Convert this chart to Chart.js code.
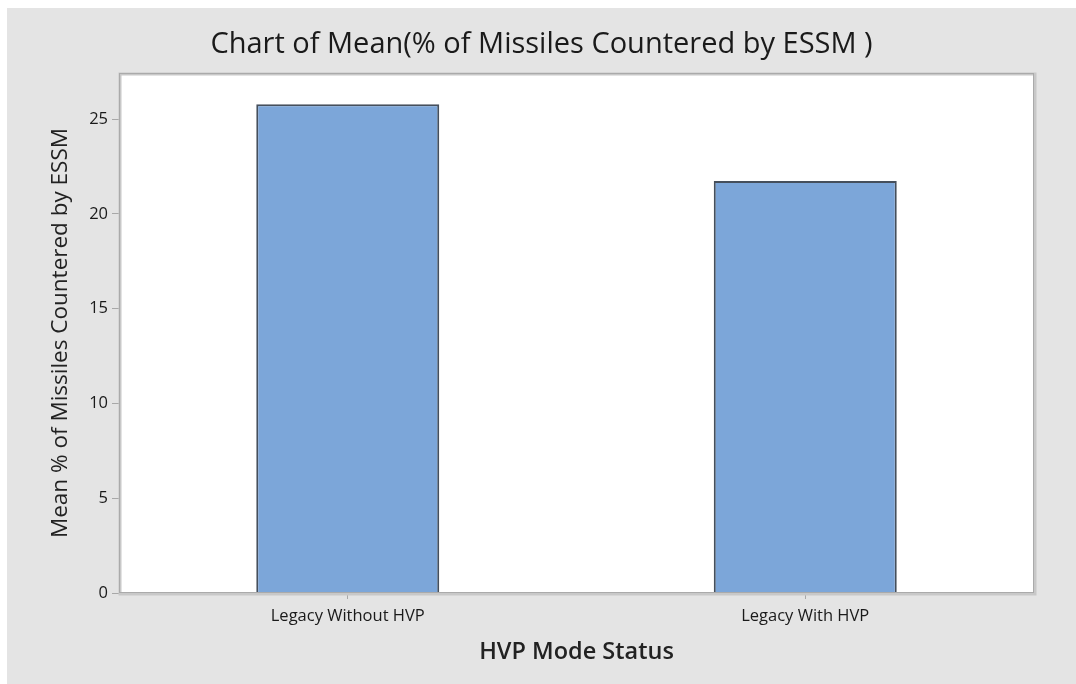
<!DOCTYPE html>
<html>
<head>
<meta charset="utf-8">
<script src="https://cdn.jsdelivr.net/npm/chart.js@4"></script>
<style>
    html, body { margin: 0; padding: 0; background: #ffffff; }
    #wrap { width: 1076px; height: 684px; }
</style>
</head>
<body>
<div id="wrap"><canvas id="meanChart" width="1076" height="684"></canvas></div>
<script>
// Chart data
const categories = ['Legacy Without HVP', 'Legacy With HVP'];
const meanValues = [25.78, 21.73];
const yTicks = [0, 5, 10, 15, 20, 25];
const chartTitle = 'Chart of Mean(% of Missiles Countered by ESSM )';

const FONT = '"Open Sans", "Noto Sans", sans-serif';

// Grey page panel, title, white plot area with a grey frame
const panelPlugin = {
    id: 'panel',
    beforeDraw(chart) {
        const { ctx, chartArea: a } = chart;
        ctx.save();
        ctx.fillStyle = '#e4e4e4';
        ctx.fillRect(7, 8, chart.width - 7, chart.height - 8);
        ctx.fillStyle = '#ffffff';
        ctx.fillRect(a.left, a.top, a.right - a.left, a.bottom - a.top);
        // title centred over the grey panel
        ctx.fillStyle = '#1a1a1a';
        ctx.font = '29px ' + FONT;
        ctx.textAlign = 'center';
        ctx.textBaseline = 'middle';
        ctx.fillText(chartTitle, (7 + chart.width) / 2, 45);
        ctx.restore();
    },
    afterDatasetsDraw(chart) {
        const { ctx, chartArea: a } = chart;
        ctx.save();
        ctx.strokeStyle = '#c8c8c8';
        ctx.lineWidth = 3;
        ctx.strokeRect(a.left + 1, a.top + 1, a.right - a.left, a.bottom - a.top);
        ctx.strokeStyle = '#aaaaaa';
        ctx.lineWidth = 1;
        ctx.strokeRect(a.left + 0.5, a.top + 0.5, a.right - a.left - 1, a.bottom - a.top - 1);
        ctx.restore();
    }
};

new Chart(document.getElementById('meanChart'), {
    type: 'bar',
    data: {
        labels: categories,
        datasets: [{
            label: 'Mean % of Missiles Countered by ESSM',
            data: meanValues,
            backgroundColor: '#7ca6d9',
            borderColor: '#454f5c',
            borderWidth: 2,
            barPercentage: 0.4,
            categoryPercentage: 1.0
        }]
    },
    options: {
        responsive: false,
        animation: false,
        layout: { padding: { left: 0, right: 42, top: 73, bottom: 0 } },
        plugins: {
            legend: { display: false },
            tooltip: { enabled: false },
            title: { display: false }
        },
        scales: {
            x: {
                offset: true,
                afterFit: (scale) => { scale.height = 91; },
                border: { display: false },
                grid: { drawOnChartArea: false, offset: false, tickLength: 6, color: '#a8a8a8' },
                ticks: { color: '#1a1a1a', padding: 7, font: { family: FONT, size: 16.5 } },
                title: {
                    display: true,
                    text: 'HVP Mode Status',
                    color: '#222222',
                    font: { family: FONT, size: 23.5, weight: '600', lineHeight: 1.2 },
                    padding: { top: 0, bottom: 18 }
                }
            },
            y: {
                min: 0,
                max: 27.43,
                afterFit: (scale) => { scale.width = 119; },
                afterBuildTicks: (scale) => { scale.ticks = yTicks.map(v => ({ value: v })); },
                border: { display: false },
                grid: { drawOnChartArea: false, tickLength: 7, color: '#a8a8a8' },
                ticks: { color: '#1a1a1a', padding: 4, font: { family: FONT, size: 16.5 } },
                title: {
                    display: true,
                    text: 'Mean % of Missiles Countered by ESSM',
                    color: '#222222',
                    font: { family: FONT, size: 22.5, weight: 'normal', lineHeight: 1.2 },
                    padding: { top: 47, bottom: 0 }
                }
            }
        }
    },
    plugins: [panelPlugin]
});
</script>
</body>
</html>
